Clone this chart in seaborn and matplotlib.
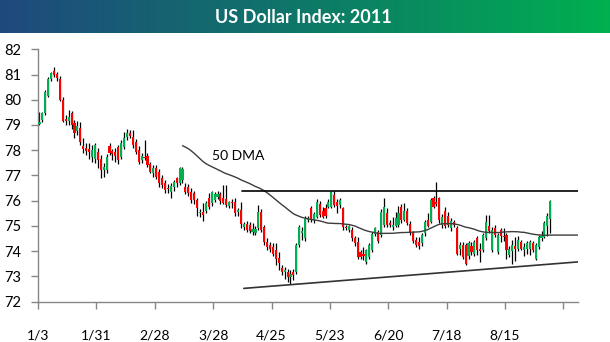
import numpy as np
import pandas as pd
import matplotlib
matplotlib.use("Agg")
import matplotlib.pyplot as plt
from matplotlib.colors import LinearSegmentedColormap
import seaborn as sns

# Daily OHLC of the US Dollar Index, first trading day of 2011 onward
open_ = [79.05, 79.20, 79.49, 80.16, 80.82, 81.14, 81.02, 80.81, 79.99, 79.25,
         79.15, 79.46, 79.06, 78.75, 78.86, 78.16, 78.10, 78.05, 77.74, 77.67,
         77.94, 77.67, 77.20, 77.21, 78.16, 77.95, 77.92, 78.14, 77.74, 78.14,
         78.51, 78.70, 78.53, 78.33, 78.00, 77.63, 77.72, 77.77, 77.47, 77.08,
         77.28, 77.15, 76.88, 76.68, 76.50, 76.35, 76.55, 76.88, 76.68, 76.81,
         76.55, 76.55, 76.35, 76.31, 76.02, 75.50, 75.56, 75.60, 76.09, 75.90,
         76.02, 76.15, 76.25, 76.12, 76.05, 75.80, 75.95, 75.93, 75.55, 75.62,
         74.96, 75.09, 75.05, 74.75, 74.70, 74.90, 75.56, 74.96, 74.37, 74.23,
         74.15, 74.04, 73.74, 73.31, 73.18, 73.18, 72.98, 73.18, 73.18, 74.23,
         74.70, 74.50, 75.25, 75.69, 75.22, 75.35, 75.88, 75.60, 75.69, 75.75,
         75.75, 76.21, 75.95, 75.82, 75.69, 74.96, 74.85, 74.83, 74.50, 74.36,
         73.95, 73.90, 73.57, 73.77, 74.03, 74.69, 74.75, 74.65, 75.03, 75.50,
         75.10, 74.95, 75.00, 75.03, 75.76, 75.25, 75.60, 75.09, 74.70, 74.43,
         74.35, 74.30, 74.70, 75.25, 75.16, 76.09, 75.95, 76.09, 75.03, 75.60,
         75.40, 74.90, 75.15, 74.90, 74.10, 74.23, 74.23, 73.80, 74.20, 73.90,
         74.50, 74.10, 74.03, 74.50, 75.00, 74.03, 74.90, 73.97, 74.83, 74.60,
         74.63, 73.83, 74.00, 74.20, 74.10, 74.35, 74.05, 74.10, 74.10, 74.30,
         73.70, 74.16, 74.50, 74.56, 75.00, 75.29]
high = [79.52, 79.50, 80.40, 80.90, 81.10, 81.31, 81.10, 80.95, 80.10, 79.40,
        79.60, 79.55, 79.20, 79.15, 79.10, 78.50, 78.30, 78.30, 78.20, 78.30,
        78.10, 77.80, 77.50, 77.85, 78.30, 78.05, 78.10, 78.20, 78.40, 78.73,
        78.82, 78.80, 78.80, 78.45, 78.15, 77.90, 78.40, 77.90, 77.55, 77.40,
        77.40, 77.25, 77.00, 76.80, 76.65, 76.70, 76.80, 76.95, 77.34, 77.34,
        76.70, 76.65, 76.50, 76.40, 76.10, 75.65, 75.90, 76.00, 76.30, 76.40,
        76.35, 76.40, 76.35, 76.60, 76.60, 76.00, 76.05, 76.10, 75.70, 75.95,
        75.15, 75.20, 75.15, 75.10, 75.00, 75.82, 75.65, 75.05, 74.50, 74.35,
        74.30, 74.30, 73.95, 73.45, 73.35, 73.30, 73.25, 73.30, 74.30, 75.05,
        74.95, 75.40, 75.40, 75.80, 75.55, 76.05, 76.00, 75.75, 75.85, 76.05,
        76.37, 76.38, 76.05, 76.10, 75.75, 75.05, 75.05, 74.95, 74.60, 74.55,
        74.05, 74.15, 74.10, 74.30, 74.75, 74.95, 74.85, 75.65, 76.09, 75.70,
        75.25, 75.35, 75.55, 75.80, 75.85, 75.90, 75.70, 75.20, 74.80, 74.55,
        74.55, 74.70, 75.25, 75.50, 76.10, 76.20, 76.75, 76.15, 75.45, 75.75,
        75.55, 75.30, 75.25, 75.00, 74.35, 74.35, 74.30, 74.40, 74.35, 74.45,
        74.60, 74.30, 74.70, 75.42, 75.42, 74.95, 75.05, 74.70, 74.90, 74.90,
        74.70, 74.20, 74.45, 74.55, 74.60, 74.45, 74.30, 74.40, 74.45, 74.40,
        74.30, 74.65, 74.80, 75.20, 75.50, 76.02]
low = [78.98, 79.10, 79.40, 80.10, 80.75, 80.90, 80.75, 79.95, 79.10, 79.00,
       79.00, 78.85, 78.50, 78.60, 78.20, 77.90, 77.80, 77.65, 77.55, 77.50,
       77.30, 76.90, 76.95, 77.10, 77.80, 77.60, 77.55, 77.45, 77.65, 78.05,
       78.40, 78.50, 78.10, 77.85, 77.45, 77.50, 77.60, 77.35, 77.08, 76.95,
       76.85, 76.55, 76.50, 76.30, 76.30, 76.10, 76.40, 76.55, 76.60, 76.70,
       76.25, 76.20, 75.90, 75.85, 75.40, 75.35, 75.20, 75.50, 75.65, 75.80,
       75.95, 76.05, 75.85, 75.85, 75.75, 75.70, 75.70, 75.40, 75.40, 74.90,
       74.85, 74.75, 74.70, 74.65, 74.65, 74.85, 74.75, 74.25, 74.05, 73.95,
       73.80, 73.44, 73.25, 73.05, 72.90, 72.78, 72.68, 72.85, 73.10, 74.15,
       74.45, 74.40, 75.15, 75.15, 75.10, 75.30, 75.35, 75.30, 75.30, 75.70,
       75.70, 75.75, 75.50, 75.70, 74.85, 74.85, 74.75, 74.40, 74.20, 73.70,
       73.70, 73.65, 73.50, 73.70, 73.95, 74.60, 74.30, 74.55, 74.95, 74.95,
       74.95, 74.85, 74.95, 74.95, 75.10, 75.20, 75.05, 74.65, 74.30, 74.15,
       74.10, 74.20, 74.60, 74.95, 75.10, 75.70, 75.80, 75.10, 74.90, 74.90,
       74.95, 74.80, 74.95, 73.85, 73.85, 73.70, 73.45, 73.70, 73.85, 73.80,
       73.85, 73.57, 73.95, 74.45, 74.70, 73.95, 74.55, 73.90, 74.35, 74.40,
       73.70, 73.75, 73.50, 73.60, 74.00, 74.05, 73.80, 73.90, 73.85, 73.95,
       73.65, 74.10, 74.40, 74.50, 74.60, 74.70]
close = [79.12, 79.46, 80.32, 80.82, 81.05, 80.98, 80.85, 79.99, 79.15, 79.15,
         79.30, 78.99, 78.67, 78.95, 78.33, 78.03, 77.98, 77.92, 78.00, 78.20,
         77.60, 77.21, 77.35, 77.74, 77.87, 77.85, 77.75, 77.60, 78.27, 78.47,
         78.67, 78.55, 78.20, 77.94, 77.54, 77.77, 77.70, 77.41, 77.15, 77.28,
         76.95, 76.68, 76.62, 76.42, 76.45, 76.58, 76.75, 76.70, 77.30, 77.24,
         76.35, 76.31, 76.02, 76.02, 75.69, 75.56, 75.42, 75.90, 75.76, 76.35,
         76.28, 76.26, 76.00, 75.90, 75.82, 75.95, 75.90, 75.49, 75.62, 75.09,
         75.09, 74.83, 74.80, 74.89, 74.89, 75.56, 74.83, 74.37, 74.17, 74.10,
         73.90, 73.70, 73.51, 73.18, 73.25, 72.98, 73.10, 73.05, 74.23, 74.96,
         74.78, 75.29, 75.30, 75.22, 75.45, 75.95, 75.42, 75.36, 75.40, 75.95,
         76.35, 75.82, 75.80, 76.02, 74.96, 74.92, 74.98, 74.50, 74.30, 73.77,
         73.77, 73.80, 74.03, 74.23, 74.69, 74.90, 74.40, 75.56, 75.76, 75.03,
         75.03, 75.05, 75.30, 75.49, 75.23, 75.60, 75.10, 74.76, 74.40, 74.23,
         74.20, 74.63, 75.16, 75.00, 76.02, 75.76, 75.88, 75.23, 75.36, 75.00,
         75.05, 75.20, 75.02, 73.90, 74.23, 73.77, 73.50, 74.30, 73.95, 74.36,
         74.05, 74.00, 74.63, 75.16, 74.80, 74.83, 74.65, 74.63, 74.60, 74.55,
         74.03, 74.10, 74.25, 74.10, 74.45, 74.10, 74.15, 74.30, 74.35, 74.05,
         74.23, 74.56, 74.60, 75.10, 75.40, 76.00]

# Axis labels, one every 20 sessions (the last slot is left blank)
tick_labels = ["1/3", "1/31", "2/28", "3/28", "4/25", "5/23", "6/20", "7/18", "8/15", ""]
y_ticks = [72, 73, 74, 75, 76, 77, 78, 79, 80, 81, 82]

# Trading-range boundaries
resistance_level = 76.4
support_start = 72.52
support_end = 73.57
n_slots = 185
ma_window = 50

df = pd.DataFrame({"open": open_, "high": high, "low": low, "close": close})
df["x"] = np.arange(len(df)) + 0.5
df["up"] = df["close"] >= df["open"]
df["body_lo"] = df[["open", "close"]].min(axis=1)
df["body_h"] = (df["close"] - df["open"]).abs().clip(lower=0.03)
df["dma"] = df["close"].rolling(ma_window).mean()

sns.set_theme(style="ticks")
plt.rcParams["font.family"] = ["Lato", "DejaVu Sans"]

fig = plt.figure(figsize=(6.1, 3.42), dpi=100)
fig.patch.set_facecolor("white")

# Header strip with a blue-to-green gradient
tax = fig.add_axes([0, 1 - 33 / 342, 1, 33 / 342])
cmap = LinearSegmentedColormap.from_list("hdr", ["#1f497d", "#0e7868", "#00b050"])
tax.imshow(np.linspace(0, 1, 512)[None, :], aspect="auto", cmap=cmap, extent=[0, 1, 0, 1])
tax.set_axis_off()
tax.text(0.497, 0.47, "US Dollar Index: 2011", color="white", fontweight="bold",
         fontsize=13, ha="center", va="center")

ax = fig.add_axes([38 / 610, 1 - 301.5 / 342, 540 / 610, 252.2 / 342])
ax.set_facecolor("white")

# Candles: wicks then bodies
ax.vlines(df["x"], df["low"], df["high"], color="black", lw=0.9, zorder=2)
colors = np.where(df["up"], "#00b050", "#ff0000")
ax.bar(df["x"], df["body_h"], bottom=df["body_lo"], width=0.72, color=colors,
       linewidth=0, zorder=3)

# 50-day moving average, carried flat to the end of the axis
dma = df.dropna(subset=["dma"])
dma_x = list(dma["x"]) + [n_slots]
dma_y = list(dma["dma"]) + [dma["dma"].iloc[-1]]
sns.lineplot(x=dma_x, y=dma_y, ax=ax, color="#3c3c3c", lw=1.0, sort=False, zorder=4)
ax.text(59.6, 77.77, "50 DMA", fontsize=10, ha="left", va="center", color="black")

# Trading range
ax.plot([70, n_slots], [resistance_level, resistance_level], color="black", lw=1.2, zorder=4)
ax.plot([70.5, n_slots], [support_start, support_end], color="#333333", lw=1.2, zorder=4)

ax.set_xlim(0, n_slots)
ax.set_ylim(72, 82)
ax.set_xticks(np.arange(0, 181, 20))
ax.set_xticklabels(tick_labels)
ax.set_yticks(y_ticks)
ax.set_xlabel("")
ax.set_ylabel("")
ax.grid(False)
sns.despine(ax=ax)
for side in ("left", "bottom"):
    ax.spines[side].set_color("#868686")
    ax.spines[side].set_linewidth(1.0)
ax.tick_params(axis="x", length=5, width=1, color="#868686", pad=15, labelsize=10,
               labelcolor="black")
ax.tick_params(axis="y", length=5, width=1, color="#868686", pad=7, labelsize=10.5,
               labelcolor="black")

fig.savefig("out.png", dpi=100, facecolor="white")
